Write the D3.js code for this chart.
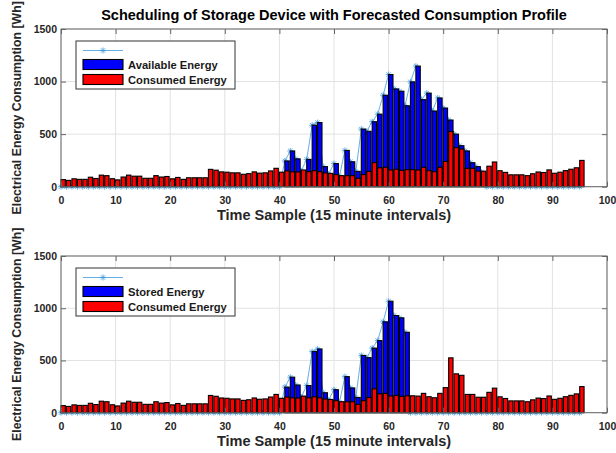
<!DOCTYPE html>
<html>
<head>
<meta charset="utf-8">
<script src="https://cdn.jsdelivr.net/npm/d3@7"></script>
<style>
	body { margin: 0; background: #fff; }
	text { font-family: "Liberation Sans", Arial, Helvetica, sans-serif; }
</style>
</head>
<body>
<div id="chart-area"></div>
<script>

// SVG Size
var width = 616,
		height = 453;

// Chart data (15 minute samples, Wh)
var samples = d3.range(96);

var consumed = [
	68, 60, 75, 70, 70, 90, 78, 110, 105, 76,
	65, 92, 110, 100, 100, 80, 80, 105, 92, 97,
	75, 88, 70, 85, 85, 85, 85, 165, 157, 141,
	138, 132, 132, 118, 124, 141, 129, 132, 150, 175,
	138, 150, 142, 140, 159, 143, 152, 143, 131, 127,
	115, 105, 105, 105, 80, 115, 146, 229, 180, 185,
	160, 166, 156, 162, 162, 159, 185, 153, 143, 185,
	240, 525, 372, 358, 175, 175, 148, 148, 195, 235,
	152, 136, 113, 113, 113, 105, 123, 140, 135, 160,
	128, 138, 153, 166, 180, 250
];

var available = [
	0, 0, 0, 0, 0, 0, 0, 0, 0, 0,
	0, 0, 0, 0, 0, 0, 0, 0, 0, 0,
	0, 0, 0, 0, 0, 0, 0, 0, 0, 0,
	0, 0, 0, 0, 0, 0, 0, 0, 0, 0,
	0, 245, 340, 265, 150, 260, 585, 610, 191, 120,
	220, 100, 345, 237, 146, 548, 527, 618, 690, 870,
	1067, 930, 908, 770, 997, 1147, 828, 890, 720, 844,
	748, 634, 500, 390, 340, 228, 191, 140, 0, 0,
	0, 0, 0, 0, 0, 0, 0, 0, 0, 0,
	0, 0, 0, 0, 0, 0
];

var stored = [
	0, 0, 0, 0, 0, 0, 0, 0, 0, 0,
	0, 0, 0, 0, 0, 0, 0, 0, 0, 0,
	0, 0, 0, 0, 0, 0, 0, 0, 0, 0,
	0, 0, 0, 0, 0, 0, 0, 0, 0, 0,
	0, 245, 340, 265, 150, 260, 585, 610, 191, 120,
	220, 100, 345, 237, 146, 548, 527, 618, 690, 870,
	1067, 930, 908, 770, 0, 0, 0, 0, 0, 0,
	0, 0, 0, 0, 0, 0, 0, 0, 0, 0,
	0, 0, 0, 0, 0, 0, 0, 0, 0, 0,
	0, 0, 0, 0, 0, 0
];

var xTicks = [0, 10, 20, 30, 40, 50, 60, 70, 80, 90, 100];
var yTicks = [0, 500, 1000, 1500];

var titleText = "Scheduling of Storage Device with Forecasted Consumption Profile";
var xLabel = "Time Sample (15 minute intervals)";
var yLabel = "Electrical Energy Consumption [Wh]";

var svg = d3.select("#chart-area").append("svg")
	.attr("width", width)
	.attr("height", height);

var left = 61, right = 607;

var xScale = d3.scaleLinear()
	.domain([0, 100])
	.range([left, right]);

var barW = xScale(0.8) - xScale(0);

function star(x, y) {
	var s = 3, d = 2.2;
	return "M" + (x - s) + "," + y + "L" + (x + s) + "," + y +
		"M" + x + "," + (y - s) + "L" + x + "," + (y + s) +
		"M" + (x - d) + "," + (y - d) + "L" + (x + d) + "," + (y + d) +
		"M" + (x - d) + "," + (y + d) + "L" + (x + d) + "," + (y - d);
}

function drawPanel(top, bottom, series, seriesName) {

	var yScale = d3.scaleLinear()
		.domain([0, 1500])
		.range([bottom, top]);

	var g = svg.append("g");

	// grid
	g.selectAll(".vgrid").data(xTicks).enter().append("line")
		.attr("x1", function(d) { return xScale(d); })
		.attr("x2", function(d) { return xScale(d); })
		.attr("y1", top).attr("y2", bottom)
		.attr("stroke", "#e2e2e2").attr("stroke-width", 1);

	g.selectAll(".hgrid").data(yTicks).enter().append("line")
		.attr("x1", left).attr("x2", right)
		.attr("y1", function(d) { return yScale(d); })
		.attr("y2", function(d) { return yScale(d); })
		.attr("stroke", "#e2e2e2").attr("stroke-width", 1);

	// line with star markers
	var line = d3.line()
		.x(function(i) { return xScale(samples[i]); })
		.y(function(i) { return yScale(series[i]); });

	g.append("path")
		.datum(samples)
		.attr("d", line)
		.attr("fill", "none")
		.attr("stroke", "#3b9be0")
		.attr("stroke-width", 0.8);

	g.selectAll(".star").data(samples).enter().append("path")
		.attr("d", function(i) { return star(xScale(samples[i]), yScale(series[i])); })
		.attr("stroke", "#3b9be0")
		.attr("stroke-width", 0.8)
		.attr("fill", "none");

	// bars (blue behind, red in front)
	var withEnergy = samples.filter(function(i) { return series[i] > 0; });

	g.selectAll(".bar-blue").data(withEnergy).enter().append("rect")
		.attr("x", function(i) { return xScale(samples[i] + 0.4) - barW / 2; })
		.attr("width", barW)
		.attr("y", function(i) { return yScale(series[i]); })
		.attr("height", function(i) { return yScale(0) - yScale(series[i]); })
		.attr("fill", "#0000ff")
		.attr("stroke", "#000")
		.attr("stroke-width", 1.1);

	g.selectAll(".bar-red").data(samples).enter().append("rect")
		.attr("x", function(i) { return xScale(samples[i] + 0.4) - barW / 2; })
		.attr("width", barW)
		.attr("y", function(i) { return yScale(consumed[i]); })
		.attr("height", function(i) { return yScale(0) - yScale(consumed[i]); })
		.attr("fill", "#ff0000")
		.attr("stroke", "#000")
		.attr("stroke-width", 1.1);

	// box + ticks
	g.append("rect")
		.attr("x", left).attr("y", top)
		.attr("width", right - left).attr("height", bottom - top)
		.attr("fill", "none").attr("stroke", "#666").attr("stroke-width", 1);

	var xAxis = d3.axisBottom(xScale).tickValues(xTicks).tickFormat(d3.format("d"))
		.tickSizeInner(-5).tickSizeOuter(0).tickPadding(10);
	var xTop = d3.axisTop(xScale).tickValues(xTicks)
		.tickSizeInner(-5).tickSizeOuter(0).tickFormat("");
	var yAxis = d3.axisLeft(yScale).tickValues(yTicks).tickFormat(d3.format("d"))
		.tickSizeInner(-5).tickSizeOuter(0).tickPadding(4);
	var yRight = d3.axisRight(yScale).tickValues(yTicks)
		.tickSizeInner(-5).tickSizeOuter(0).tickFormat("");

	[
		[xAxis, "translate(0," + bottom + ")"],
		[xTop, "translate(0," + top + ")"],
		[yAxis, "translate(" + left + ",0)"],
		[yRight, "translate(" + right + ",0)"]
	].forEach(function(a) {
		var ax = g.append("g").attr("transform", a[1]).call(a[0]);
		ax.select(".domain").remove();
		ax.selectAll("line").attr("stroke", "#666");
		ax.selectAll("text")
			.attr("fill", "#262626")
			.style("font-size", "10.5px")
			.style("font-weight", "bold")
			.style("font-family", "'Liberation Sans', Arial, sans-serif");
	});

	// axis labels
	g.append("text")
		.attr("x", (left + right) / 2)
		.attr("y", bottom + 33)
		.attr("text-anchor", "middle")
		.style("font-size", "14.5px")
		.style("font-weight", "bold")
		.attr("fill", "#262626")
		.text(xLabel);

	g.append("text")
		.attr("transform", "translate(21," + ((top + bottom) / 2) + ") rotate(-90)")
		.attr("text-anchor", "middle")
		.style("font-size", "12.3px")
		.style("font-weight", "bold")
		.attr("fill", "#262626")
		.text(yLabel);

	// legend
	var lx = 76, ly = top + 12;
	var lg = g.append("g").attr("transform", "translate(" + lx + "," + ly + ")");
	lg.append("rect")
		.attr("width", 159).attr("height", 48)
		.attr("fill", "#fff").attr("stroke", "#333").attr("stroke-width", 1);
	lg.append("line")
		.attr("x1", 7).attr("x2", 47).attr("y1", 9.5).attr("y2", 9.5)
		.attr("stroke", "#3b9be0").attr("stroke-width", 0.8);
	lg.append("path").attr("d", star(27, 9.5))
		.attr("stroke", "#3b9be0").attr("stroke-width", 0.8);

	var entries = [[seriesName, "#0000ff"], ["Consumed Energy", "#ff0000"]];
	entries.forEach(function(e, k) {
		lg.append("rect")
			.attr("x", 7).attr("y", 18.5 + k * 15)
			.attr("width", 40).attr("height", 10)
			.attr("fill", e[1]).attr("stroke", "#000").attr("stroke-width", 1.1);
		lg.append("text")
			.attr("x", 52).attr("y", 27.5 + k * 15)
			.style("font-size", "11.2px")
			.style("font-weight", "bold")
			.attr("fill", "#1a1a1a")
			.text(e[0]);
	});
}

drawPanel(29, 186.7, available, "Available Energy");
drawPanel(256, 412.7, stored, "Stored Energy");

svg.append("text")
	.attr("x", (left + right) / 2)
	.attr("y", 20)
	.attr("text-anchor", "middle")
	.style("font-size", "14.5px")
	.style("font-weight", "bold")
	.attr("fill", "#000")
	.text(titleText);

</script>
</body>
</html>
